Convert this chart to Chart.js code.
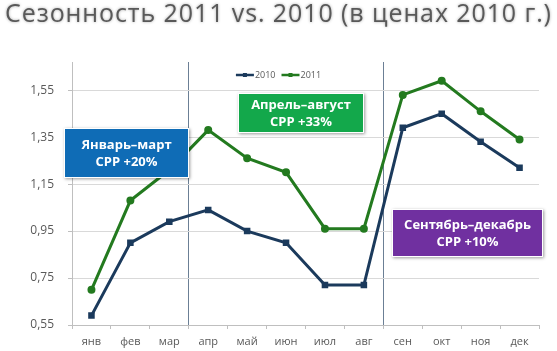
<!DOCTYPE html>
<html>
<head>
<meta charset="utf-8">
<script src="https://cdn.jsdelivr.net/npm/chart.js@4.4.0/dist/chart.umd.min.js"></script>
<style>
    body { margin: 0; background: #fff; }
    #wrap { position: relative; width: 557px; height: 351px; overflow: hidden; font-family: 'Open Sans', sans-serif; }
    #myChart { position: absolute; left: 0; top: 0; }
    .title {
        position: absolute; left: 0; top: -3px; width: 557px; text-align: center;
        font-size: 25px; line-height: 30px; letter-spacing: 0.9px; color: #595959; white-space: nowrap;
        text-shadow: 0 0 3px rgba(0,0,0,0.35);
    }
    .note {
        position: absolute; color: #fff; font-weight: 700; font-size: 13px; line-height: 17px;
        text-align: center; box-sizing: border-box; display: flex; align-items: center; justify-content: center;
        border: 1px solid #fff; box-shadow: 1px 1px 3px rgba(0,0,0,0.4);
    }
</style>
</head>
<body>
<div id="wrap">
    <canvas id="myChart" width="557" height="351"></canvas>
    <div class="title">Сезонность 2011 vs. 2010 (в ценах 2010 г.)</div>
    <div class="note" style="left:64px;top:128px;width:125px;height:50px;background:#0f6cb6;">Январь–март<br>CPP +20%</div>
    <div class="note" style="left:238px;top:93px;width:126px;height:40px;background:#13a84b;">Апрель–август<br>CPP +33%</div>
    <div class="note" style="left:392px;top:209px;width:151px;height:48px;background:#7030a0;">Сентябрь–декабрь<br>CPP +10%</div>
</div>
<script>
const labels = ['янв', 'фев', 'мар', 'апр', 'май', 'июн', 'июл', 'авг', 'сен', 'окт', 'ноя', 'дек'];
const values2010 = [0.59, 0.90, 0.99, 1.04, 0.95, 0.90, 0.72, 0.72, 1.39, 1.45, 1.33, 1.22];
const values2011 = [0.70, 1.08, 1.21, 1.38, 1.26, 1.20, 0.96, 0.96, 1.53, 1.59, 1.46, 1.34];
const yTicks = [0.55, 0.75, 0.95, 1.15, 1.35, 1.55];
const splitAfter = [3, 8]; // lines between мар/апр and авг/сен

const data = {
    labels: labels,
    datasets: [{
        label: '2010',
        data: values2010,
        borderColor: '#1b3a5c',
        backgroundColor: '#1b3a5c',
        borderWidth: 3,
        pointStyle: 'rect',
        pointRadius: 2.5,
        tension: 0
    }, {
        label: '2011',
        data: values2011,
        borderColor: '#237a1f',
        backgroundColor: '#237a1f',
        borderWidth: 3,
        pointStyle: 'circle',
        pointRadius: 2.5,
        tension: 0
    }]
};

// small legend inside the plot, line + marker like the original
const innerLegend = {
    id: 'innerLegend',
    afterDraw(chart) {
        const ctx = chart.ctx;
        const lineW = 18;
        ctx.save();
        ctx.font = '9px "Open Sans"';
        ctx.textBaseline = 'middle';
        const items = chart.data.datasets.map(ds => ({ ds, w: lineW + 1 + ctx.measureText(ds.label).width }));
        const total = items.reduce((s, it) => s + it.w, 0) + 6 * (items.length - 1);
        let x = chart.width / 2 - total / 2;
        const y = chart.chartArea.top + 13;
        items.forEach(it => {
            ctx.strokeStyle = it.ds.borderColor;
            ctx.lineWidth = 2.5;
            ctx.beginPath();
            ctx.moveTo(x, y);
            ctx.lineTo(x + lineW, y);
            ctx.stroke();
            ctx.fillStyle = it.ds.borderColor;
            ctx.fillRect(x + lineW / 2 - 2, y - 2, 4, 4);
            ctx.fillStyle = '#595959';
            ctx.fillText(it.ds.label, x + lineW + 1, y);
            x += it.w + 6;
        });
        ctx.restore();
    }
};

const config = {
    type: 'line',
    data: data,
    plugins: [innerLegend],
    options: {
        responsive: false,
        animation: false,
        layout: { padding: { left: 0, right: 18, top: 62, bottom: 0 } },
        plugins: {
            legend: { display: false },
            tooltip: { enabled: false }
        },
        scales: {
            x: {
                offset: true,
                grid: {
                    offset: true,
                    color: (ctx) => splitAfter.includes(ctx.index) ? '#6b7f95' : 'rgba(0,0,0,0)',
                    tickColor: '#bfbfbf',
                    tickLength: 4
                },
                border: { color: '#bfbfbf' },
                ticks: { color: '#595959', font: { family: 'Open Sans', size: 11 }, padding: 6 },
                afterFit: (scale) => { scale.height = 26; }
            },
            y: {
                min: 0.55,
                max: 1.67,
                afterBuildTicks: (scale) => { scale.ticks = yTicks.map(v => ({ value: v })); },
                grid: { color: '#d9d9d9', tickColor: '#bfbfbf', tickLength: 4 },
                border: { color: '#bfbfbf' },
                ticks: {
                    color: '#595959',
                    font: { family: 'Open Sans', size: 12 },
                    padding: 14,
                    callback: (v) => Number(v).toFixed(2).replace('.', ',')
                },
                afterFit: (scale) => { scale.width = 72; }
            }
        }
    }
};

const myChart = new Chart(document.getElementById('myChart'), config);
</script>
</body>
</html>
